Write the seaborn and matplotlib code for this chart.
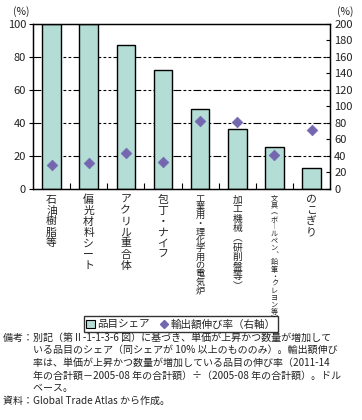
import matplotlib
matplotlib.use("Agg")
import matplotlib.pyplot as plt
import seaborn as sns
import pandas as pd
import numpy as np
from matplotlib.patches import Patch
from matplotlib.lines import Line2D

sns.set_theme(style="white")
plt.rcParams['font.family'] = ['Noto Sans CJK JP', 'DejaVu Sans']

categories = ["石油樹脂等", "偏光材料シート", "アクリル重合体", "包丁・ナイフ",
              "工業用・理化学用の電気炉", "加工機械︵研削盤等︶",
              "文具︵ボ︱ルペン︑鉛筆・クレヨン等︶", "のこぎり"]
share = [100, 100, 87, 72, 48.5, 36.5, 25.5, 13]
growth = [29, 32, 44, 33, 82, 81, 41, 72]
left_ticks = [0, 20, 40, 60, 80, 100]
right_ticks = [0, 20, 40, 60, 80, 100, 120, 140, 160, 180, 200]

df = pd.DataFrame({"cat": categories, "share": share, "growth": growth})

bar_color = "#b3ddd5"
pt_color = "#7467b0"

fig = plt.figure(figsize=(3.62, 4.2), dpi=100)
ax = fig.add_axes([0.091, 0.55, 0.821, 0.393])
sns.barplot(data=df, x="cat", y="share", ax=ax, color=bar_color,
            edgecolor="black", linewidth=1.0, width=0.5, saturation=1)
ax.set_ylim(0, 100)
ax.set_xlim(-0.5, len(categories) - 0.5)
ax.set_yticks(left_ticks)
for v in [20, 40, 60, 80]:
    ax.axhline(v, color="black", lw=0.8, ls=(0, (7, 2, 2.5, 2, 2.5, 2)), zorder=0.5)
ax.set_xlabel("")
ax.set_ylabel("")
for s in ax.spines.values():
    s.set_color("black")
    s.set_linewidth(0.9)

ax.set_xticks(np.arange(len(categories)))
ax.tick_params(axis="x", length=0, pad=4)
ax.set_xticks(np.arange(len(categories) - 1) + 0.5, minor=True)
ax.tick_params(axis="x", which="minor", direction="in", length=4, width=0.8, color="black", bottom=True)
labels = ["\n".join(list(c)) for c in categories]
ax.set_xticklabels(labels, va="top", color="#222222")
for t, c in zip(ax.get_xticklabels(), categories):
    n = len(c)
    if n <= 7:
        t.set_fontsize(7.8)
        t.set_linespacing(1.12)
    elif n <= 10:
        t.set_fontsize(7.0)
        t.set_linespacing(0.95)
    elif n <= 12:
        t.set_fontsize(6.6)
        t.set_linespacing(0.9)
    else:
        t.set_fontsize(5.1)
        t.set_linespacing(0.85)
ax.tick_params(axis="y", direction="out", length=3, width=0.8, color="black", labelsize=8, pad=2, left=True,
               labelcolor="#222222")

ax2 = ax.twinx()
sns.scatterplot(data=df, x="cat", y="growth", ax=ax2, marker="D", s=30,
                color=pt_color, edgecolor=pt_color, zorder=5)
ax2.set_ylim(0, 200)
ax2.set_yticks(right_ticks)
ax2.set_ylabel("")
ax2.set_xlabel("")
ax2.tick_params(axis="y", direction="in", length=3, width=0.8, color="black", labelsize=8, pad=3, right=True,
                labelcolor="#222222")
for s in ax2.spines.values():
    s.set_color("black")
    s.set_linewidth(0.9)
ax2.set_xlim(-0.5, len(categories) - 0.5)

fig.text(0.035, 0.972, "(%)", fontsize=7.5, ha="left", va="center", color="#222222")
fig.text(0.93, 0.972, "(%)", fontsize=7.5, ha="left", va="center", color="#222222")

handles = [Patch(facecolor=bar_color, edgecolor="black", linewidth=0.8, label="品目シェア"),
           Line2D([], [], marker="D", ls="none", color=pt_color, markersize=4.5, label="輸出額伸び率（右軸）")]
leg = fig.legend(handles=handles, loc="center", bbox_to_anchor=(0.5, 0.228), ncol=2,
                 frameon=True, fontsize=7.6, handlelength=0.8, handleheight=0.8,
                 handletextpad=0.25, columnspacing=0.9, borderpad=0.25, borderaxespad=0, fancybox=False)
leg.get_frame().set_edgecolor("black")
leg.get_frame().set_linewidth(1.0)

notes = ("備考：別記（第Ⅱ-1-1-3-6 図）に基づき、単価が上昇かつ数量が増加して\n"
         "　　　いる品目のシェア（同シェアが 10% 以上のもののみ）。輸出額伸び\n"
         "　　　率は、単価が上昇かつ数量が増加している品目の伸び率（2011-14\n"
         "　　　年の合計額－2005-08 年の合計額）÷（2005-08 年の合計額）。ドル\n"
         "　　　ベース。\n"
         "資料：Global Trade Atlas から作成。")
fig.text(0.008, 0.208, notes, fontsize=7.2, ha="left", va="top", linespacing=1.32, color="#222222")

fig.savefig("out.png", dpi=100)
